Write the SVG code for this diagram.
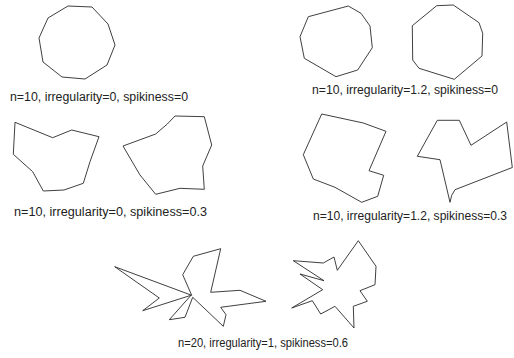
<svg xmlns="http://www.w3.org/2000/svg" width="514" height="358" viewBox="0 0 514 358">
<style>
.p{fill:none;stroke:#2a2a2a;stroke-width:0.9;stroke-linejoin:round}
.t{font-family:"Liberation Sans",Arial,sans-serif;font-size:12px;fill:#222}
</style>
<rect width="514" height="358" fill="#fff"/>
<g id="poly1"><polygon class="p" points="68,6 92,7 108,24 115,45 107,65 85,79 62,77 43,62 39,38 48,18"/></g>
<g id="poly2"><polygon class="p" points="348.3,6 361,13.3 370,26 372.3,47.7 357.7,70 336,76.7 304.3,58.3 300,36.7 308.3,16.7"/></g>
<g id="poly3"><polygon class="p" points="436.7,5.7 453.3,5 479,22.7 482.7,33.3 482,56 454.3,79.3 419,68.3 412.7,60 412.3,25.7"/></g>
<g id="poly4"><polygon class="p" points="15,122.3 52.7,137.7 71.7,130 99,136.7 90,161.7 83.3,183.3 64,190 43.3,191 32.7,171.7 13.3,154.3"/></g>
<g id="poly5"><polygon class="p" points="175,116 204.3,116.7 211.7,145 202.7,166 204.3,189.3 180,188.3 155.7,194.3 140,175 123,146 155.7,134 167.3,124"/></g>
<g id="poly6"><polygon class="p" points="321.7,114 363.3,123 386,131.3 369,170.7 383.7,175.3 377.7,196.3 361.7,202.3 335,187.3 313.3,179 303.3,154.7"/></g>
<g id="poly7"><polygon class="p" points="437.3,120.3 459.3,120.3 471,145.3 506.7,122 512.3,167.5 455,189.7 451.7,195.3 450,202.3 440,159.7 417.3,156.3"/></g>
<g id="poly8"><polygon class="p" points="114.7,266.7 159.3,298 142.7,310.7 191,295.3 169.3,319.7 185,317.3 192.7,297.3 223.3,326.3 226,314.7 220.7,307.3 266,301.3 240,290.3 210.7,292.3 220.7,248.7 193.3,256.3 182.7,274.7 191.7,295.3"/></g>
<g id="poly9"><polygon class="p" points="358.3,240.7 376,266.3 375,284.7 360,290.7 367.3,301.3 353.3,306.3 354,328 335,306.3 320.7,314 312.3,300.7 291.7,308 322.7,289.7 300,274 324,280.7 293.3,260.7 323.3,263 334,257 337.3,270.3"/></g>
<g id="labels">
<text class="t" x="10" y="101" textLength="178" lengthAdjust="spacingAndGlyphs">n=10, irregularity=0, spikiness=0</text>
<text class="t" x="312" y="94" textLength="186" lengthAdjust="spacingAndGlyphs">n=10, irregularity=1.2, spikiness=0</text>
<text class="t" x="14" y="216" textLength="193" lengthAdjust="spacingAndGlyphs">n=10, irregularity=0, spikiness=0.3</text>
<text class="t" x="313" y="220" textLength="194" lengthAdjust="spacingAndGlyphs">n=10, irregularity=1.2, spikiness=0.3</text>
<text class="t" x="178" y="347" textLength="170" lengthAdjust="spacingAndGlyphs">n=20, irregularity=1, spikiness=0.6</text>
</g>
</svg>
